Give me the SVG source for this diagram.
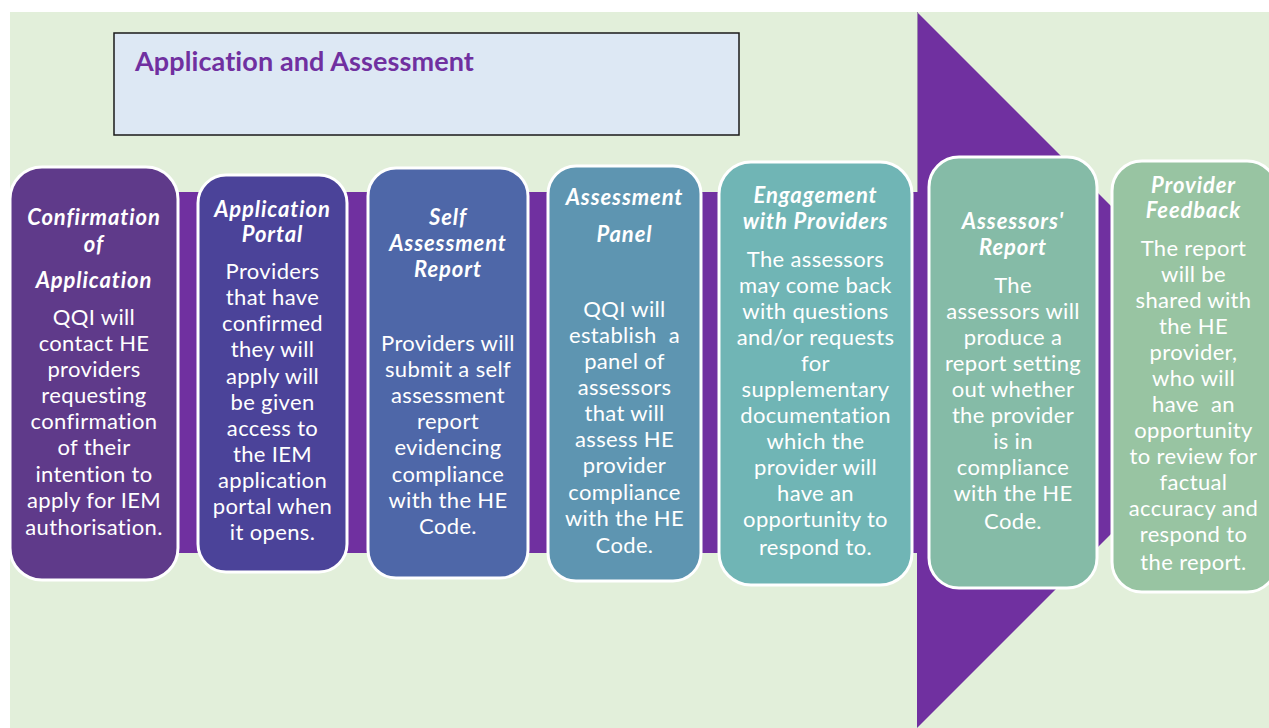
<svg xmlns="http://www.w3.org/2000/svg" width="1269" height="728" viewBox="0 0 1269 728">
  <style>
    .box { stroke: #ffffff; stroke-width: 3; }
    .hd { font-family: "Lato", "Liberation Sans", sans-serif; font-weight: 700; font-style: italic; font-size: 22px; letter-spacing: 0.9px; fill: #ffffff; text-anchor: middle; }
    .tx { font-family: "Lato", "Liberation Sans", sans-serif; font-size: 22px; letter-spacing: 0.35px; fill: #ffffff; text-anchor: middle; }
    .title { font-family: "Lato", "Liberation Sans", sans-serif; font-weight: 700; font-size: 27px; letter-spacing: 0.1px; fill: #7030a0; }
  </style>

  <!-- page background -->
  <rect x="0" y="0" width="1269" height="728" fill="#ffffff"/>
  <rect x="10" y="12" width="1259" height="716" fill="#e2efda"/>

  <!-- title panel -->
  <g id="title">
    <rect x="114" y="33" width="625" height="102" fill="#dde8f4" stroke="#1a1a1a" stroke-width="1.5"/>
    <text class="title" x="135" y="71">Application and Assessment</text>
  </g>

  <!-- process band and arrow head -->
  <g id="connectors">
    <rect x="40" y="192" width="879" height="361" fill="#7030a0"/>
    <polygon points="917,12 1275,370 917,728" fill="#7030a0"/>
    <line x1="917.5" y1="12" x2="917.5" y2="192" stroke="#9a8aa8" stroke-width="1"/>
  </g>

  <g id="step1">
    <rect class="box" x="10" y="167" width="168" height="413" rx="32" fill="#5f3a8a"/>
    <text class="hd" x="94" y="225">Confirmation</text>
    <text class="hd" x="94" y="252">of</text>
    <text class="hd" x="94" y="288">Application</text>
    <text class="tx" x="94" y="325">QQI will</text>
    <text class="tx" x="94" y="351">contact HE</text>
    <text class="tx" x="94" y="377">providers</text>
    <text class="tx" x="94" y="403">requesting</text>
    <text class="tx" x="94" y="429">confirmation</text>
    <text class="tx" x="94" y="455">of their</text>
    <text class="tx" x="94" y="482">intention to</text>
    <text class="tx" x="94" y="508">apply for IEM</text>
    <text class="tx" x="94" y="535">authorisation.</text>
  </g>

  <g id="step2">
    <rect class="box" x="198" y="175" width="149" height="397" rx="28" fill="#4b4399"/>
    <text class="hd" x="272.5" y="217">Application</text>
    <text class="hd" x="272.5" y="242">Portal</text>
    <text class="tx" x="272.5" y="279">Providers</text>
    <text class="tx" x="272.5" y="305">that have</text>
    <text class="tx" x="272.5" y="331">confirmed</text>
    <text class="tx" x="272.5" y="357">they will</text>
    <text class="tx" x="272.5" y="384">apply will</text>
    <text class="tx" x="272.5" y="410">be given</text>
    <text class="tx" x="272.5" y="436">access to</text>
    <text class="tx" x="272.5" y="462">the IEM</text>
    <text class="tx" x="272.5" y="488">application</text>
    <text class="tx" x="272.5" y="514">portal when</text>
    <text class="tx" x="272.5" y="540">it opens.</text>
  </g>

  <g id="step3">
    <rect class="box" x="368" y="168" width="160" height="410" rx="28" fill="#4e67a8"/>
    <text class="hd" x="448" y="225">Self</text>
    <text class="hd" x="448" y="251">Assessment</text>
    <text class="hd" x="448" y="277">Report</text>
    <text class="tx" x="448" y="351">Providers will</text>
    <text class="tx" x="448" y="377">submit a self</text>
    <text class="tx" x="448" y="403">assessment</text>
    <text class="tx" x="448" y="429">report</text>
    <text class="tx" x="448" y="455">evidencing</text>
    <text class="tx" x="448" y="482">compliance</text>
    <text class="tx" x="448" y="508">with the HE</text>
    <text class="tx" x="448" y="534">Code.</text>
  </g>

  <g id="step4">
    <rect class="box" x="548" y="166" width="153" height="415" rx="28" fill="#5e95b1"/>
    <text class="hd" x="624.5" y="205">Assessment</text>
    <text class="hd" x="624.5" y="242">Panel</text>
    <text class="tx" x="624.5" y="317">QQI will</text>
    <text class="tx" x="624.5" y="343" xml:space="preserve">establish  a</text>
    <text class="tx" x="624.5" y="369">panel of</text>
    <text class="tx" x="624.5" y="395">assessors</text>
    <text class="tx" x="624.5" y="421">that will</text>
    <text class="tx" x="624.5" y="447">assess HE</text>
    <text class="tx" x="624.5" y="473">provider</text>
    <text class="tx" x="624.5" y="500">compliance</text>
    <text class="tx" x="624.5" y="526">with the HE</text>
    <text class="tx" x="624.5" y="553">Code.</text>
  </g>

  <g id="step5">
    <rect class="box" x="719" y="162" width="193" height="423" rx="32" fill="#70b5b5"/>
    <text class="hd" x="815.5" y="203">Engagement</text>
    <text class="hd" x="815.5" y="229">with Providers</text>
    <text class="tx" x="815.5" y="267">The assessors</text>
    <text class="tx" x="815.5" y="293">may come back</text>
    <text class="tx" x="815.5" y="319">with questions</text>
    <text class="tx" x="815.5" y="345">and/or requests</text>
    <text class="tx" x="815.5" y="371">for</text>
    <text class="tx" x="815.5" y="397">supplementary</text>
    <text class="tx" x="815.5" y="423">documentation</text>
    <text class="tx" x="815.5" y="449">which the</text>
    <text class="tx" x="815.5" y="475">provider will</text>
    <text class="tx" x="815.5" y="501">have an</text>
    <text class="tx" x="815.5" y="527">opportunity to</text>
    <text class="tx" x="815.5" y="555">respond to.</text>
  </g>

  <g id="step6">
    <rect class="box" x="929" y="157" width="168" height="431" rx="30" fill="#85bba7"/>
    <text class="hd" x="1013" y="229">Assessors'</text>
    <text class="hd" x="1013" y="255">Report</text>
    <text class="tx" x="1013" y="293">The</text>
    <text class="tx" x="1013" y="319">assessors will</text>
    <text class="tx" x="1013" y="345">produce a</text>
    <text class="tx" x="1013" y="371">report setting</text>
    <text class="tx" x="1013" y="397">out whether</text>
    <text class="tx" x="1013" y="423">the provider</text>
    <text class="tx" x="1013" y="449">is in</text>
    <text class="tx" x="1013" y="475">compliance</text>
    <text class="tx" x="1013" y="501">with the HE</text>
    <text class="tx" x="1013" y="529">Code.</text>
  </g>

  <g id="step7">
    <rect class="box" x="1112" y="161" width="165" height="431" rx="30" fill="#98c4a2"/>
    <text class="hd" x="1193.5" y="193">Provider</text>
    <text class="hd" x="1193.5" y="218">Feedback</text>
    <text class="tx" x="1193.5" y="256">The report</text>
    <text class="tx" x="1193.5" y="282">will be</text>
    <text class="tx" x="1193.5" y="308">shared with</text>
    <text class="tx" x="1193.5" y="334">the HE</text>
    <text class="tx" x="1193.5" y="360">provider,</text>
    <text class="tx" x="1193.5" y="386">who will</text>
    <text class="tx" x="1193.5" y="412" xml:space="preserve">have  an</text>
    <text class="tx" x="1193.5" y="438">opportunity</text>
    <text class="tx" x="1193.5" y="464">to review for</text>
    <text class="tx" x="1193.5" y="490">factual</text>
    <text class="tx" x="1193.5" y="516">accuracy and</text>
    <text class="tx" x="1193.5" y="542">respond to</text>
    <text class="tx" x="1193.5" y="570">the report.</text>
  </g>
</svg>
